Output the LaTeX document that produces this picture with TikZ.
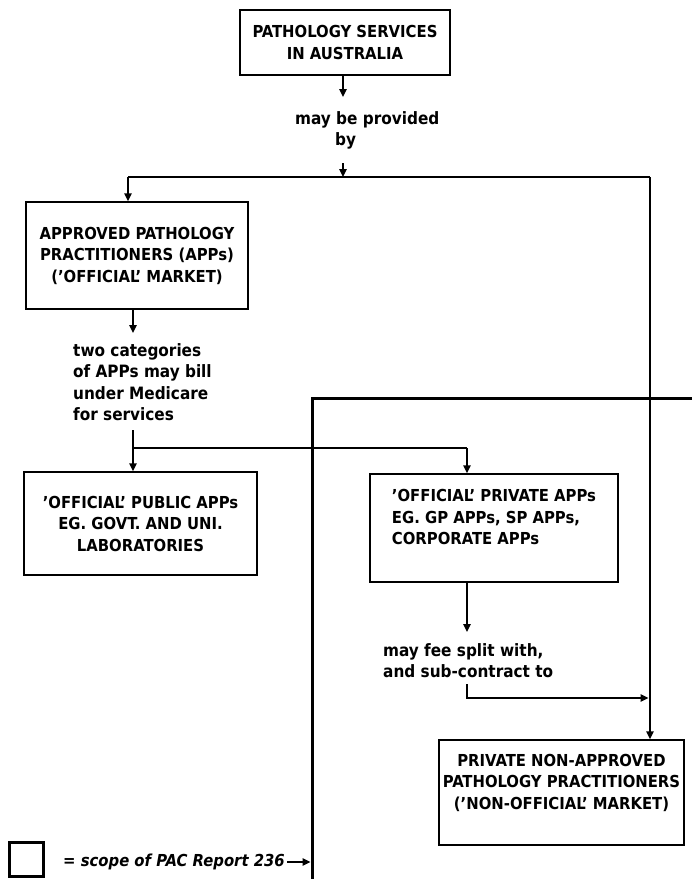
\documentclass[tikz,border=0pt]{standalone}
\usepackage{fontspec}
\setmainfont{DejaVu Sans Condensed}[BoldFont={DejaVu Sans Condensed Bold}, ItalicFont={DejaVu Sans Condensed Oblique}, BoldItalicFont={DejaVu Sans Condensed Bold Oblique}]
\usetikzlibrary{arrows.meta}

\tikzset{
  box/.style={draw, line width=1.5pt, align=center, inner xsep=3pt,
    font=\bfseries\fontsize{16.5}{21.5}\selectfont},
  lbl/.style={align=left, inner sep=0pt, font=\bfseries\fontsize{17}{21.5}\selectfont},
  link/.style={line width=1.5pt},
  arr/.style={link, -{Triangle[length=8pt,width=7.5pt]}},
  scopeline/.style={line width=3pt},
}

\begin{document}
\begin{tikzpicture}[x=1pt,y=-1pt]
    \useasboundingbox (0,0) rectangle (692,879);

    % boxes and labels
    \node[box, minimum width=210pt, minimum height=65pt] (top) at (345,42.5) {PATHOLOGY SERVICES\\IN AUSTRALIA};
    \node[lbl, anchor=north west] (prov) at (295,111) {may be provided\\\hspace*{40pt}by};
    \node[box, minimum width=222pt, minimum height=107pt] (apps) at (137,255.5) {APPROVED PATHOLOGY\\PRACTITIONERS (APPs)\\('OFFICIAL' MARKET)};
    \node[lbl, anchor=north west] (cats) at (73,343) {two categories\\of APPs may bill\\under Medicare\\for services};
    \node[box, minimum width=233pt, minimum height=103pt] (pub) at (140.5,523.5) {'OFFICIAL' PUBLIC APPs\\EG. GOVT. AND UNI.\\LABORATORIES};
    \node[box, align=left, minimum width=248pt, minimum height=108pt] (priv) at (494,528) {'OFFICIAL' PRIVATE APPs\\EG. GP APPs, SP APPs,\\CORPORATE APPs\\~};
    \node[lbl, anchor=north west] (fee) at (383,643) {may fee split with,\\and sub-contract to};
    \node[box, minimum width=245pt, minimum height=105pt] (nonapp) at (561.5,792.5) {PRIVATE NON-APPROVED\\PATHOLOGY PRACTITIONERS\\('NON-OFFICIAL' MARKET)\\~};

    % key
    \node[draw, scopeline, minimum size=34pt, inner sep=0pt] (key) at (26.5,859.5) {};
    \node[anchor=west, inner sep=0pt, font=\bfseries\itshape\fontsize{16.5}{20}\selectfont] (keytxt) at (63,862) {= scope of PAC Report 236};

    % junctions
    \coordinate (jA) at (343,177);
    \coordinate (jL) at (128,177);
    \coordinate (jR) at (650,177);
    \coordinate (jB) at (133,448);
    \coordinate (jC) at (467,448);
    \coordinate (jD) at (467,698);
    \coordinate (sc1) at (692,398);
    \coordinate (sc2) at (312,398);
    \coordinate (sc3) at (312,879);

    \draw[arr, shorten >=14pt] (top.south -| jA) -- (jA |- prov.north);
    \draw[arr, shorten <=14pt] (jA |- prov.south) -- (jA);
    \draw[link] (jL) -- (jR);
    \draw[arr] (jL) -- (jL |- apps.north);
    \draw[arr] (jR) -- (jR |- nonapp.north);
    \draw[arr, shorten >=10pt] (apps.south -| jB) -- (jB |- cats.north);
    \draw[link, shorten <=9pt] (jB |- cats.south) -- (jB) -- (jC);
    \draw[arr] (jB) -- (jB |- pub.north);
    \draw[arr] (jC) -- (jC |- priv.north);
    \draw[arr, shorten >=11pt] (priv.south -| jC) -- (jC |- fee.north);
    \draw[arr, shorten <=6pt, shorten >=1.5pt] (jC |- fee.south) -- (jD) -- (jD -| jR);

    % scope of report
    \draw[scopeline] (sc1) -- (sc2) -- (sc3);
    \draw[arr, shorten <=2pt, shorten >=1.5pt] (keytxt.east) -- (keytxt.east -| sc2);
\end{tikzpicture}
\end{document}
